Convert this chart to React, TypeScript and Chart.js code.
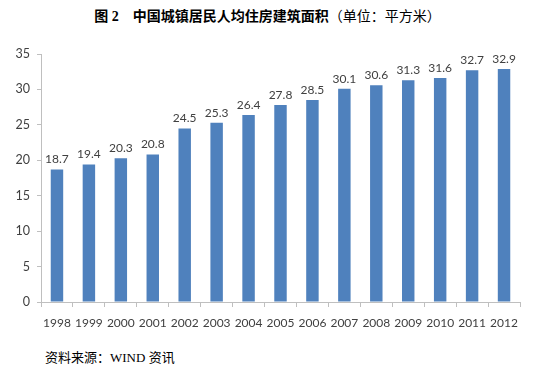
import React, { useEffect, useRef } from "react";
import { Chart, registerables } from "chart.js";

Chart.register(...registerables);

const categories = ["1998","1999","2000","2001","2002","2003","2004","2005","2006","2007","2008","2009","2010","2011","2012"];
const areaValues = [18.7, 19.4, 20.3, 20.8, 24.5, 25.3, 26.4, 27.8, 28.5, 30.1, 30.6, 31.3, 31.6, 32.7, 32.9];
const yTicks = [0, 5, 10, 15, 20, 25, 30, 35];

const FONT = "Lato, 'Liberation Sans', sans-serif";

const valueLabels = {
  id: "valueLabels",
  afterDatasetsDraw(chart: any) {
    const ctx = chart.ctx;
    const meta = chart.getDatasetMeta(0);
    ctx.save();
    ctx.font = `12px ${FONT}`;
    ctx.fillStyle = "#404040";
    ctx.textAlign = "center";
    ctx.textBaseline = "bottom";
    meta.data.forEach((bar: any, i: number) => {
      ctx.fillText(String(areaValues[i].toFixed(1)), bar.x, bar.y - 4);
    });
    ctx.restore();
  },
};

export default function App() {
  const ref = useRef<HTMLCanvasElement>(null);
  useEffect(() => {
    if (!ref.current) return;
    const chart = new Chart(ref.current, {
      type: "bar",
      data: {
        labels: categories,
        datasets: [
          {
            data: areaValues,
            backgroundColor: "#4F81BD",
            borderWidth: 0,
            barPercentage: 0.78,
            categoryPercentage: 0.5,
          },
        ],
      },
      options: {
        responsive: false,
        animation: false,
        layout: { padding: { top: 24, right: 15, left: 0, bottom: 0 } },
        plugins: { legend: { display: false }, tooltip: { enabled: false } },
        scales: {
          x: {
            offset: true,
            grid: { offset: true, drawOnChartArea: false, drawTicks: true, tickLength: 5, color: "#bfbfbf" },
            border: { color: "#bfbfbf" },
            ticks: { color: "#404040", font: { family: FONT, size: 12 }, padding: 9, maxRotation: 0, autoSkip: false },
            afterFit: (s: any) => { s.height = 38; },
          },
          y: {
            min: 0,
            max: 35,
            afterBuildTicks: (s: any) => { s.ticks = yTicks.map((v) => ({ value: v })); },
            grid: { drawOnChartArea: false, drawTicks: true, tickLength: 4, color: "#bfbfbf" },
            border: { color: "#bfbfbf" },
            ticks: { color: "#404040", font: { family: FONT, size: 12.5 }, padding: 7 },
            afterFit: (s: any) => { s.width = 41; },
          },
        },
      },
      plugins: [valueLabels],
    });
    return () => chart.destroy();
  }, []);

  return (
    <div style={{ position: "fixed", left: 0, top: 0, width: 535, height: 375, background: "#fff" }}>
      <div
        style={{
          position: "absolute",
          top: 5,
          left: 0,
          width: 535,
          textAlign: "center",
          fontSize: 14,
          color: "#000",
          whiteSpace: "nowrap",
          lineHeight: "20px",
        }}
      >
        <span style={{ fontFamily: "'Liberation Serif', 'Noto Sans CJK SC', serif", fontWeight: "bold" }}>图 2</span>
        <span style={{ display: "inline-block", width: 14 }}></span>
        <span style={{ fontFamily: "'Noto Sans CJK SC', sans-serif", fontWeight: "bold" }}>中国城镇居民人均住房建筑面积</span>
        <span style={{ fontFamily: "'Noto Sans CJK SC', sans-serif", fontWeight: "normal" }}>（单位：平方米）</span>
      </div>
      <canvas ref={ref} width={535} height={310} style={{ position: "absolute", left: 0, top: 30, width: 535, height: 310 }} />
      <div
        style={{
          position: "absolute",
          top: 348,
          left: 45,
          fontSize: 13,
          color: "#000",
          whiteSpace: "nowrap",
          lineHeight: "20px",
          fontFamily: "'Liberation Serif', 'Noto Sans CJK SC', serif",
        }}
      >
        资料来源：WIND 资讯
      </div>
    </div>
  );
}
